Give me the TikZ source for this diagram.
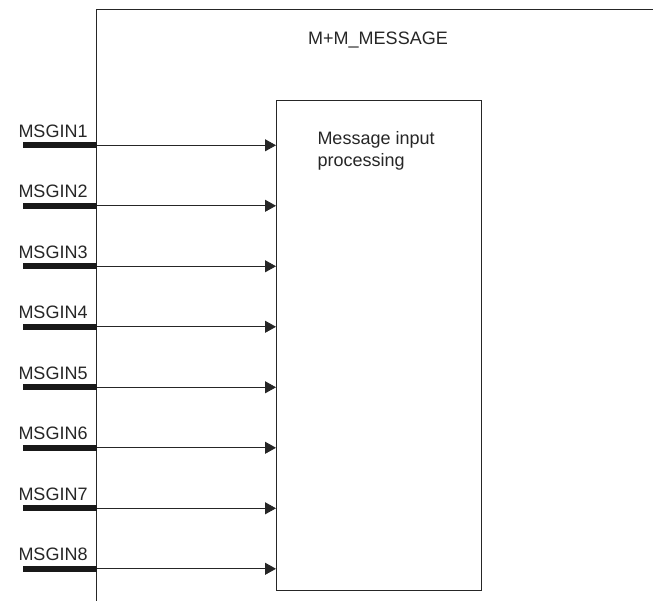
\documentclass[tikz,border=0pt]{standalone}
\usepackage{fontspec}
\setmainfont{Liberation Sans}
\usetikzlibrary{arrows.meta}
\begin{document}
\begin{tikzpicture}[x=1pt,y=-1pt,
  frameline/.style={line width=1pt,draw=black!85},
  inbar/.style={fill=black!90,draw=none,minimum width=73.5pt,minimum height=6pt,inner sep=0pt,outer sep=0pt,anchor=east},
  inlabel/.style={anchor=base west,inner sep=0pt,font=\fontsize{18}{22}\selectfont,text=black!85},
  sigarrow/.style={line width=0.9pt,draw=black!85,-{Triangle[length=11pt,width=12pt]}},
  txt/.style={inner sep=0pt,font=\fontsize{18}{22}\selectfont,text=black!85}]
\useasboundingbox (0,0) rectangle (653,601);
% outer frame
\draw[frameline] (96.7,601) -- (96.7,9.3) -- (653,9.3);
\node[txt,anchor=base] (title) at (378,44.3) {M+M\_MESSAGE};
% inner box
\node[draw=black!85,line width=1pt,minimum width=205pt,minimum height=490pt,inner sep=0pt,anchor=north west] (proc) at (276,99.8) {};
\node[txt,anchor=base west,align=left] (proctext) at (317.3,166.5) {Message input\\processing};
% inputs
\foreach \i in {1,...,8}{
  \pgfmathsetmacro{\yy}{145.3+60.5*(\i-1)}
  \node[inbar] (in\i) at (96.7,\yy) {};
  \node[inlabel] (lab\i) at (18.3,\yy-8) {MSGIN\i};
  \draw[sigarrow] (in\i.east) -- (in\i.east -| proc.west);
}
\end{tikzpicture}
\end{document}
